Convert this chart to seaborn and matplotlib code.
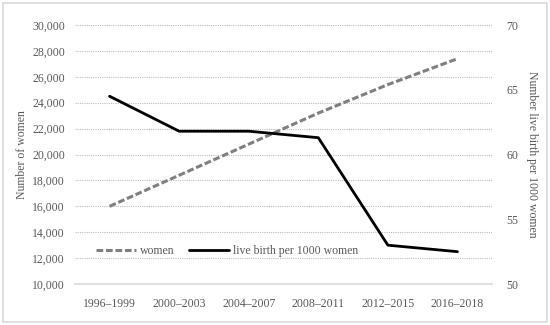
import numpy as np
import pandas as pd
import matplotlib
matplotlib.use("Agg")
import matplotlib.pyplot as plt
import seaborn as sns
from matplotlib.patches import Rectangle
from matplotlib.ticker import FuncFormatter

periods = ["1996–1999", "2000–2003", "2004–2007", "2008–2011", "2012–2015", "2016–2018"]
women = [16000, 18400, 20800, 23200, 25400, 27400]
births_per_1000 = [64.5, 61.8, 61.8, 61.3, 53.0, 52.5]

sns.set_theme(style="white")
plt.rcParams["font.family"] = ["Liberation Serif", "DejaVu Serif"]
txt = "#595959"

df_w = pd.DataFrame({"period": periods, "value": women})
df_b = pd.DataFrame({"period": periods, "value": births_per_1000})

fig = plt.figure(figsize=(5.5, 3.25), dpi=100)
ax = fig.add_axes([0.136, 0.126, 0.759, 0.797])
ax2 = ax.twinx()

sns.lineplot(data=df_w, x="period", y="value", ax=ax, color="#7f7f7f",
             linewidth=2.2, linestyle=(0, (2.2, 0.9)), label="women", legend=False)
sns.lineplot(data=df_b, x="period", y="value", ax=ax2, color="black",
             linewidth=2.0, label="live birth per 1000 women", legend=False)

ax.set_ylim(10000, 30000)
ax.set_yticks(np.arange(10000, 30001, 2000))
ax.yaxis.set_major_formatter(FuncFormatter(lambda v, p: f"{int(v):,}"))
ax2.set_ylim(50, 70)
ax2.set_yticks([50, 55, 60, 65, 70])
ax.set_xlim(-0.5, 5.5)

ax.grid(axis="y", color="#bfbfbf", linestyle=(0, (1, 1)), linewidth=0.8)
ax.set_axisbelow(True)
for a in (ax, ax2):
    for s in a.spines.values():
        s.set_visible(False)
    a.tick_params(length=0, colors=txt, labelsize=8.5)
ax.spines["bottom"].set_visible(True)
ax.spines["bottom"].set_color("#d9d9d9")
ax.spines["bottom"].set_linewidth(1.2)
ax.tick_params(axis="x", pad=10)
ax.tick_params(axis="y", pad=7)
ax2.tick_params(axis="y", pad=10)

ax.set_xlabel("")
ax.set_ylabel("Number of women", color=txt, fontsize=8.5, labelpad=3)
ax2.set_ylabel("Number live birth per 1000 women", color=txt, fontsize=8.5,
               rotation=-90, labelpad=14)

h1, l1 = ax.get_legend_handles_labels()
h2, l2 = ax2.get_legend_handles_labels()
leg = ax2.legend(h1 + h2, l1 + l2, loc="center left", bbox_to_anchor=(0.025, 0.126),
                 ncol=2, frameon=False, fontsize=8.5, handlelength=3.4,
                 columnspacing=1.2, handletextpad=0.35)
for t in leg.get_texts():
    t.set_color(txt)

fig.patches.append(Rectangle((0.006, 0.01), 0.988, 0.98, transform=fig.transFigure,
                             fill=False, edgecolor="#d9d9d9", linewidth=1.2))

fig.savefig("out.png", dpi=100)
